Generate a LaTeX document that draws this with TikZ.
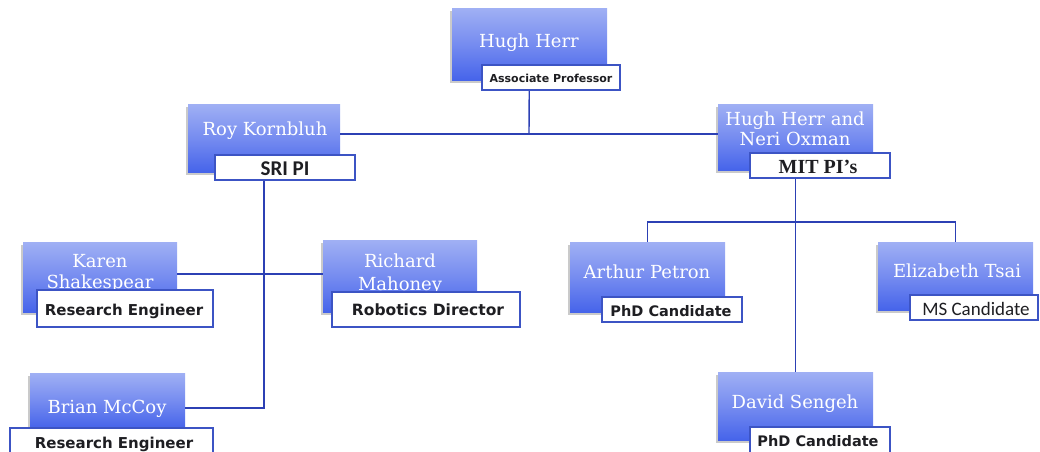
\documentclass[tikz,border=0pt]{standalone}
\usepackage{fontspec}
\usetikzlibrary{shadows}
\newfontfamily\namefont{DejaVu Serif}
\newfontfamily\rolefont{DejaVu Sans}
\newfontfamily\calfont{Carlito}
\newfontfamily\seriffont{Liberation Serif}
\definecolor{boxtop}{RGB}{160,176,244}
\definecolor{boxmid}{RGB}{118,140,240}
\definecolor{boxbot}{RGB}{70,100,234}
\definecolor{linecol}{RGB}{44,64,180}
\definecolor{rolecol}{RGB}{60,84,196}
\definecolor{roletext}{RGB}{30,30,34}
\tikzset{
  namebox/.style={rectangle, draw=none, inner sep=0pt,
    top color=boxtop, bottom color=boxbot, middle color=boxmid,
    drop shadow={shadow xshift=-2pt, shadow yshift=-2.5pt, opacity=.35, fill=black!60}},
  nametext/.style={anchor=base, text=white, inner sep=0pt, font=\namefont\fontsize{18}{21}\selectfont},
  rolebox/.style={rectangle, fill=white, draw=rolecol, line width=1.1pt, inner sep=0pt,
    text=roletext},
  conn/.style={draw=linecol, line width=1.4pt}
}
% box from its corners: left, top, right, bottom
\newcommand\orgbox[6]{%
  \node[#1, minimum width=#5-#3, minimum height=#6-#4] (#2) at ({(#3+#5)/2},{(#4+#6)/2}) {};}
\begin{document}
\begin{tikzpicture}[x=1pt,y=-1pt]
\useasboundingbox (0,0) rectangle (1040,451);

% junction points of the connectors
\coordinate (topbar) at (529,134);
\coordinate (mitbar) at (797,222);
\coordinate (bmjoin) at (265,408);

% ---------- person boxes ----------
\orgbox{namebox}{hh}{452}{8}{607}{80}
\orgbox{namebox}{rk}{188}{104}{340}{172}
\orgbox{namebox}{hn}{718}{104}{873}{170}
\orgbox{namebox}{ks}{23}{242}{177}{312}
\orgbox{namebox}{rm}{323}{240}{477}{312}
\orgbox{namebox}{apt}{570}{242}{725}{312}
\orgbox{namebox}{et}{878}{242}{1033}{310}
\orgbox{namebox}{bm}{30}{373}{185}{428}
\orgbox{namebox}{ds}{718}{372}{873}{440}

% connectors
\draw[conn] (hh) -- (topbar);
\draw[conn] (rk.east |- topbar) -- (hn.west |- topbar);
\draw[conn] (rk.south) -- (rk.south |- bmjoin) -- (bm.east |- bmjoin);
\draw[conn] (ks.east |- 0,274) -- (rm.west |- 0,274);
\draw[conn] (hn.south) -- (ds.north);
\draw[conn] (apt.north) -- (apt.north |- mitbar) -- (et.north |- mitbar) -- (et.north);

% ---------- names ----------
\node[nametext] (hh-t) at (529,47) {Hugh Herr};
\node[nametext] (rk-t) at (265,135) {Roy Kornbluh};
\node[nametext] (hn-t1) at (795,125) {Hugh Herr and};
\node[nametext] (hn-t2) at (795,145) {Neri Oxman};
\node[nametext] (ks-t1) at (100,267) {Karen};
\node[nametext] (ks-t2) at (100,288) {Shakespear};
\node[nametext] (rm-t1) at (400,267) {Richard};
\node[nametext] (rm-t2) at (400,290) {Mahoney};
\node[nametext] (apt-t) at (647,278) {Arthur Petron};
\node[nametext] (et-t) at (957,277) {Elizabeth Tsai};
\node[nametext] (bm-t) at (107,413) {Brian McCoy};
\node[nametext] (ds-t) at (795,408) {David Sengeh};

% ---------- role labels ----------
\orgbox{rolebox}{hh-r}{482}{65}{620}{90}
\node[anchor=base, text=roletext, font=\rolefont\bfseries\fontsize{11}{13}\selectfont] (hh-rt) at (551,82) {Associate Professor};
\orgbox{rolebox}{rk-r}{215}{155}{355}{180}
\node[anchor=base, text=roletext, font=\calfont\bfseries\fontsize{21}{24}\selectfont] (rk-rt) at (285,175) {SRI PI};
\orgbox{rolebox}{hn-r}{750}{153}{890}{178}
\node[anchor=base, text=roletext, font=\seriffont\bfseries\fontsize{20}{23}\selectfont] (hn-rt) at (818,173) {MIT PI’s};
\orgbox{rolebox}{ks-r}{37}{290}{213}{327}
\node[anchor=base, text=roletext, font=\rolefont\bfseries\fontsize{15}{18}\selectfont] (ks-rt) at (124,315) {Research Engineer};
\orgbox{rolebox}{rm-r}{332}{292}{520}{327}
\node[anchor=base, text=roletext, font=\rolefont\bfseries\fontsize{15.5}{18}\selectfont] (rm-rt) at (428,315) {Robotics Director};
\orgbox{rolebox}{apt-r}{602}{297}{742}{322}
\node[anchor=base, text=roletext, font=\rolefont\bfseries\fontsize{14.5}{17}\selectfont] (apt-rt) at (671,316) {PhD Candidate};
\orgbox{rolebox}{et-r}{910}{295}{1038}{320}
\node[anchor=base, text=roletext, font=\calfont\fontsize{19}{22}\selectfont] (et-rt) at (976,315) {MS Candidate};
\orgbox{rolebox}{bm-r}{10}{428}{213}{458}
\node[anchor=base, text=roletext, font=\rolefont\bfseries\fontsize{15}{18}\selectfont] (bm-rt) at (114,448) {Research Engineer};
\orgbox{rolebox}{ds-r}{750}{427}{890}{458}
\node[anchor=base, text=roletext, font=\rolefont\bfseries\fontsize{14.5}{17}\selectfont] (ds-rt) at (818,446) {PhD Candidate};
\end{tikzpicture}
\end{document}
